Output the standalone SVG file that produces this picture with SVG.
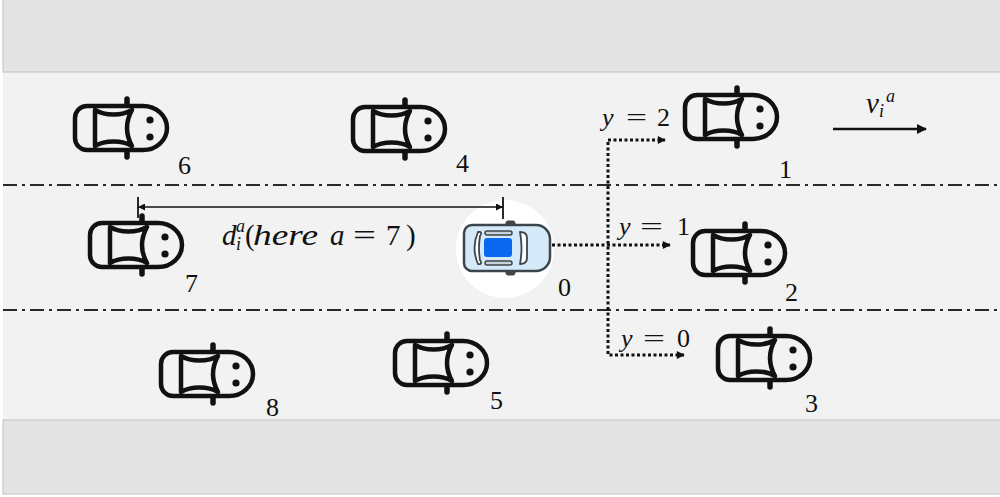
<svg xmlns="http://www.w3.org/2000/svg" xmlns:xlink="http://www.w3.org/1999/xlink" width="1000" height="497" viewBox="0 0 1000 497">
  <style>
    .shoulder { fill: #e4e4e4; stroke: #c8c8c8; stroke-width: 1.2; }
    .lane { stroke: #2a2a2a; stroke-width: 2; stroke-dasharray: 14 5 3 5; fill: none; }
    .num { font-family: "Liberation Serif", serif; font-size: 26px; fill: #111; }
    .math { font-family: "Liberation Serif", serif; font-size: 26px; fill: #111; }
    .big { font-size: 29px; }
    .it { font-style: italic; }
    .small { font-size: 18px; font-style: italic; }
    .dotted { stroke: #111; stroke-width: 3; stroke-dasharray: 3 2.5; fill: none; }
    .solid { stroke: #111; fill: none; }
    .car-line { stroke: #111; stroke-width: 4.5; stroke-linejoin: round; stroke-linecap: round; }
    .body { fill: #f2f2f2; }
    .cabin { fill: none; }
  </style>
  <defs>
    <marker id="head" viewBox="0 0 10 10" refX="9" refY="5" markerWidth="10" markerHeight="8" markerUnits="userSpaceOnUse" orient="auto">
      <path d="M0,0 L10,5 L0,10 Z" fill="#111"/>
    </marker>
    <marker id="headBig" viewBox="0 0 10 10" refX="9" refY="5" markerWidth="13" markerHeight="10" markerUnits="userSpaceOnUse" orient="auto">
      <path d="M0,0 L10,5 L0,10 Z" fill="#111"/>
    </marker>
    <marker id="headThin" viewBox="0 0 10 10" refX="10" refY="5" markerWidth="9" markerHeight="7" markerUnits="userSpaceOnUse" orient="auto-start-reverse">
      <path d="M0,0 L10,5 L0,10 Z" fill="#111"/>
    </marker>
    <!-- outline car icon, centred on the origin, facing right -->
    <g id="car">
      <line x1="6" y1="-29" x2="6" y2="29" stroke="#111" stroke-width="5.5" stroke-linecap="round"/>
      <path class="car-line body" d="M -34,-22 H 22 A 24 22 0 0 1 22 22 H -34 A 12 12 0 0 1 -46 10 V -10 A 12 12 0 0 1 -34 -22 Z"/>
      <path class="car-line cabin" d="M -26,-18 C -16,-12 1,-12 11,-18 Q 1,0 11,18 C 1,12 -16,12 -26,18 Z"/>
      <circle cx="29" cy="-8" r="3.6" fill="#111"/>
      <circle cx="29" cy="9" r="3.6" fill="#111"/>
    </g>
  </defs>

  <!-- road surface and shoulders -->
  <rect x="3" y="0" width="997" height="497" fill="#f2f2f2"/>
  <rect x="0" y="494" width="1000" height="3" fill="#ffffff"/>
  <rect class="shoulder" x="3" y="-2" width="1000" height="74"/>
  <rect class="shoulder" x="3" y="420" width="1000" height="74"/>

  <!-- lane dividers -->
  <line class="lane" x1="3" y1="185" x2="1000" y2="185"/>
  <line class="lane" x1="3" y1="310" x2="1000" y2="310"/>

  <!-- surrounding vehicles -->
  <g id="car6"><use xlink:href="#car" x="121" y="128"/><text class="num" x="178" y="174">6</text></g>
  <g id="car4"><use xlink:href="#car" x="399" y="129"/><text class="num" x="456" y="172">4</text></g>
  <g id="car1"><use xlink:href="#car" x="731" y="117"/><text class="num" x="779" y="178">1</text></g>
  <g id="car7"><use xlink:href="#car" x="136" y="245"/><text class="num" x="185" y="292">7</text></g>
  <g id="car2"><use xlink:href="#car" x="739" y="253"/><text class="num" x="785" y="301">2</text></g>
  <g id="car8"><use xlink:href="#car" x="207" y="374"/><text class="num" x="266" y="416">8</text></g>
  <g id="car5"><use xlink:href="#car" x="441" y="363"/><text class="num" x="490" y="409">5</text></g>
  <g id="car3"><use xlink:href="#car" x="764" y="358"/><text class="num" x="805" y="412">3</text></g>

  <!-- ego vehicle -->
  <g id="car0">
    <circle cx="505" cy="249" r="49" fill="#ffffff"/>
    <g transform="translate(507,248)" stroke="#3c444c" stroke-linejoin="round">
      <rect x="-1" y="-27" width="9" height="6" rx="2" fill="#3c444c"/>
      <rect x="-1" y="21" width="9" height="6" rx="2" fill="#3c444c"/>
      <path d="M -35,-23 H 29 A 14 14 0 0 1 43 -9 V 9 A 14 14 0 0 1 29 23 H -35 A 8 8 0 0 1 -43 15 V -15 A 8 8 0 0 1 -35 -23 Z" fill="#d4eaf8" stroke-width="2.5"/>
      <path d="M -29,-16 Q -24,-17 -27,-12 Q -29,0 -27,12 Q -24,17 -29,16 Q -36,0 -29,-16 Z" fill="#ffffff" stroke-width="1.8"/>
      <rect x="-22" y="-17" width="27" height="4" rx="2" fill="#c9d3da" stroke-width="1.5"/>
      <rect x="-22" y="13" width="27" height="4" rx="2" fill="#c9d3da" stroke-width="1.5"/>
      <rect x="-23" y="-10" width="28" height="19" rx="3" fill="#0a68f0" stroke="none"/>
      <path d="M 13,-16 Q 20,-16 20,-10 V 10 Q 20,16 13,16 Q 16,0 13,-16 Z" fill="#ffffff" stroke-width="1.8"/>
    </g>
    <text class="num" x="558" y="296">0</text>
  </g>

  <!-- connectors -->
  <g id="connectors">
    <!-- lateral options -->
    <line class="dotted" x1="552" y1="245" x2="670" y2="245" marker-end="url(#head)"/>
    <polyline class="dotted" points="608,142 608,355 684,355" marker-end="url(#head)"/>
    <line class="dotted" x1="608" y1="140" x2="665" y2="140" marker-end="url(#head)"/>
    <!-- distance to the vehicle in lane a -->
    <line class="solid" x1="138" y1="207" x2="503" y2="207" stroke-width="1.6" marker-start="url(#headThin)" marker-end="url(#headThin)"/>
    <line class="solid" x1="138" y1="197" x2="138" y2="218" stroke-width="1.8"/>
    <line class="solid" x1="503" y1="197" x2="503" y2="219" stroke-width="1.8"/>
    <!-- travel direction -->
    <line class="solid" x1="833" y1="129" x2="926" y2="129" stroke-width="2.6" marker-end="url(#headBig)"/>
  </g>

  <!-- labels -->
  <g id="labels">
    <text class="math"><tspan class="it" x="602" y="126">y</tspan><tspan x="626" y="126" textLength="21" lengthAdjust="spacingAndGlyphs">=</tspan><tspan x="657" y="126">2</tspan></text>
    <text class="math"><tspan class="it" x="619" y="235">y</tspan><tspan x="640" y="235" textLength="23" lengthAdjust="spacingAndGlyphs">=</tspan><tspan x="677" y="235">1</tspan></text>
    <text class="math"><tspan class="it" x="621" y="347">y</tspan><tspan x="643" y="347" textLength="22" lengthAdjust="spacingAndGlyphs">=</tspan><tspan x="677" y="347">0</tspan></text>

    <text class="math big it" x="222" y="245">d</text>
    <text class="math small" x="236" y="232">a</text>
    <text class="math small" x="236" y="250">i</text>
    <text class="math big" y="245"><tspan x="245">(</tspan><tspan class="it" x="253" textLength="65" lengthAdjust="spacingAndGlyphs">here</tspan><tspan class="it" x="330">a</tspan><tspan x="353" textLength="23" lengthAdjust="spacingAndGlyphs">=</tspan><tspan x="386">7</tspan><tspan x="406">)</tspan></text>

    <text class="math big it" x="866" y="113">v</text>
    <text class="math small" x="886" y="102">a</text>
    <text class="math small" x="879" y="117">i</text>
  </g>
</svg>
